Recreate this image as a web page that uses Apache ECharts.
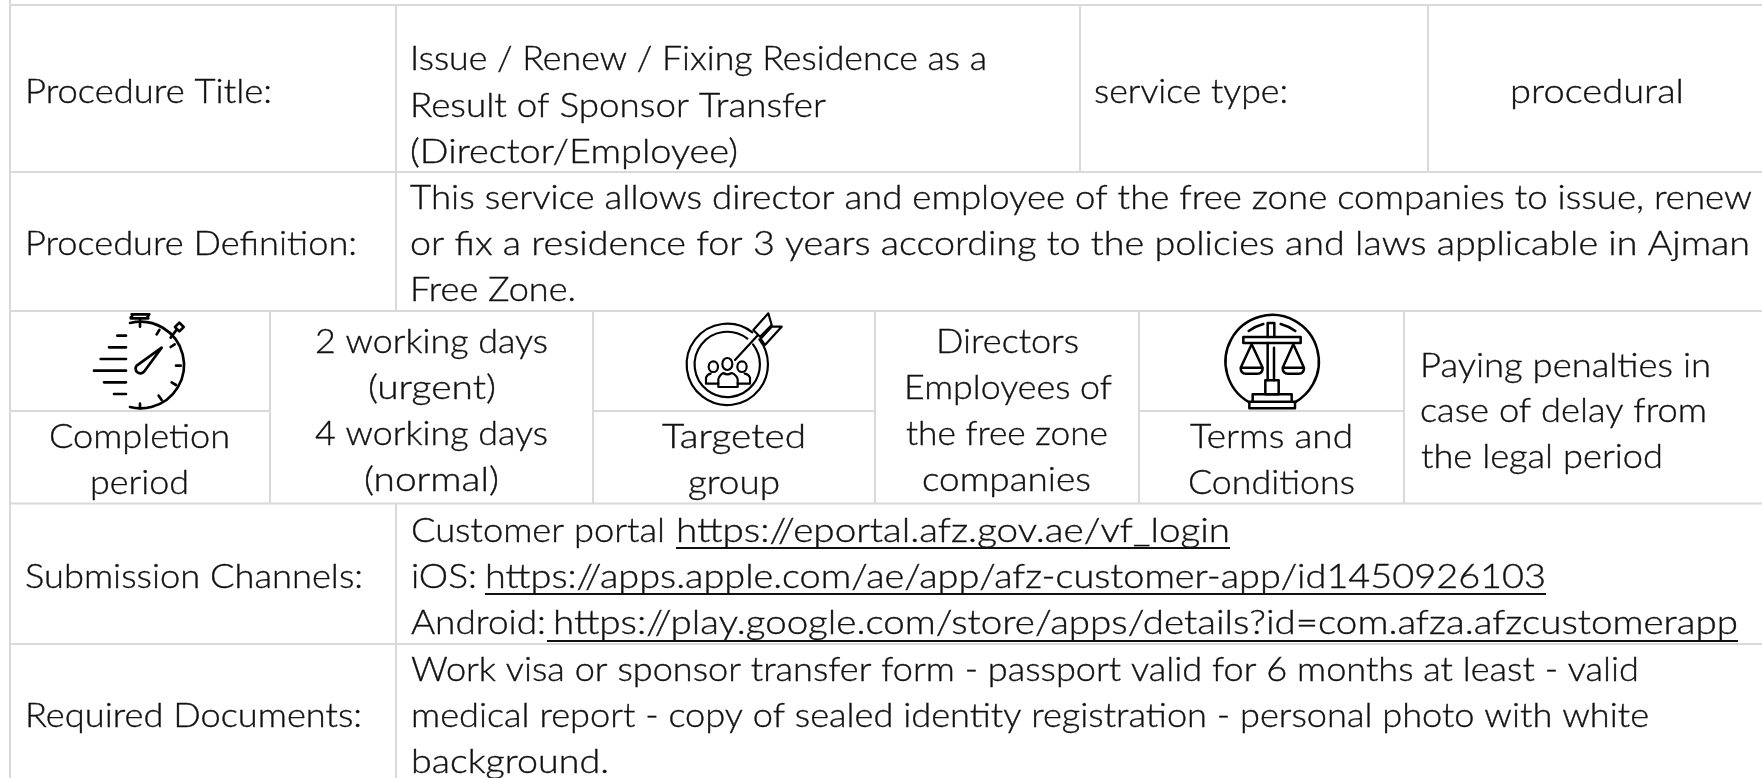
<!DOCTYPE html>
<html><head><meta charset="utf-8">
<style>html,body{margin:0;padding:0;background:#fff}#c{width:1762px;height:778px}</style>
<script src="https://cdn.jsdelivr.net/npm/echarts@6/dist/echarts.min.js"></script>
</head><body><div id="c"></div>
<script>
// ---- table content ----
const rowLabels = ['Procedure Title:', 'Procedure Definition:', 'Submission Channels:', 'Required Documents:'];
const titleLines = ['Issue / Renew / Fixing Residence as a', 'Result of Sponsor Transfer', '(Director/Employee)'];
const typeCells = ['service type:', 'procedural'];
const definitionLines = [
  'This service allows director and employee of the free zone companies to issue, renew',
  'or fix a residence for 3 years according to the policies and laws applicable in Ajman',
  'Free Zone.'];
const completionHead = ['Completion', 'period'];
const completionText = ['2 working days', '(urgent)', '4 working days', '(normal)'];
const targetHead = ['Targeted', 'group'];
const targetText = ['Directors', 'Employees of', 'the free zone', 'companies'];
const termsHead = ['Terms and', 'Conditions'];
const termsText = ['Paying penalties in', 'case of delay from', 'the legal period'];
const channelNames = ['Customer portal', 'iOS:', 'Android:'];
const channelLinks = [
  'https://eportal.afz.gov.ae/vf_login',
  'https://apps.apple.com/ae/app/afz-customer-app/id1450926103',
  'https://play.google.com/store/apps/details?id=com.afza.afzcustomerapp'];
const documentLines = [
  'Work visa or sponsor transfer form - passport valid for 6 months at least - valid',
  'medical report - copy of sealed identity registration - personal photo with white',
  'background.'];

// ---- layout: [left, right, baseline] in pixels, parallel to the lists above ----
const rowLabelPos = [[25,272,103],[25,357,255],[25,363,588],[25,362,727]];
const titlePos = [[410,987,70],[410,826,117],[410,738,163]];
const typePos = [[1094,1288,103],[1510,1684,103]];
const definitionPos = [[410,1752,209],[410,1750,255],[410,576,301]];
const completionHeadPos = [[49,230,448],[90,189,494]];
const completionTextPos = [[315,548,353],[368,496,399],[315,548,445],[364,499,491]];
const targetHeadPos = [[662,806,448],[688,780,494]];
const targetTextPos = [[936,1079,353],[904,1112,399],[906,1108,445],[922,1091,491]];
const termsHeadPos = [[1190,1353,448],[1188,1355,494]];
const termsTextPos = [[1420,1711,377],[1420,1707,422],[1421,1663,468]];
const channelNamePos = [[411,665,542],[411,477,588],[411,546,634]];
const channelLinkPos = [[676,1230,542],[485,1546,588],[553,1738,634]];
const underlinePos = [[676,1230,548],[485,1546,594],[547,1738,641]];
const documentPos = [[411,1639,681],[411,1649,727],[411,609,773]];
// grid: [x1,y1,x2,y2]
const gridLines = [
  [9,5,1762,5],[9,172,1762,172],[9,311,1762,311],[9,503.5,1762,503.5],[9,644,1762,644],
  [10,0,10,778],[396,5,396,311],[396,504,396,778],[1080,5,1080,172],[1428,5,1428,172],
  [270,311,270,503],[593,311,593,503],[875,311,875,503],[1139,311,1139,503],[1404,311,1404,503],
  [10,411,270,411],[594,411,875,411],[1139,411,1404,411]];

const FONT_SIZE = 33, FONT_FAMILY = 'Lato', FONT_WEIGHT = 300, INK = '#111111', RULE = '#d9d9d9';
const BASE_K = 0.31;
const mctx = document.createElement('canvas').getContext('2d');
mctx.font = FONT_WEIGHT + ' ' + FONT_SIZE + 'px ' + FONT_FAMILY;

function textEls(lines, pos) {
  return lines.map((t, i) => {
    const p = pos[i];
    return {
      type: 'text', x: p[0], y: p[2] - BASE_K * FONT_SIZE,
      scaleX: (p[1] - p[0]) / mctx.measureText(t).width, silent: true,
      style: { text: t, fill: INK, stroke: INK, lineWidth: 0.35, font: FONT_WEIGHT + ' ' + FONT_SIZE + 'px ' + FONT_FAMILY, align: 'left', verticalAlign: 'middle' }
    };
  });
}
const gridEls = gridLines.map(l => ({
  type: 'line', silent: true, shape: { x1: l[0], y1: l[1], x2: l[2], y2: l[3] },
  style: { stroke: RULE, lineWidth: 2 }
}));
const underlineEls = underlinePos.map(u => ({
  type: 'line', silent: true, shape: { x1: u[0], y1: u[2], x2: u[1], y2: u[2] },
  style: { stroke: INK, lineWidth: 2 }
}));

// ---- icons, drawn in a 3x local space ----
const watchPaths = [
  'M150 54 A130 130 0 1 1 150 306',
  'M155 28 H205 M152 38 L160 28 M208 28 L200 40 M152 40 H205 M180 40 V65',
  'M272 98 L290 74 M298 53 L311 66 L298 79 L285 66 Z',
  'M245 128 L192 200 A14 14 0 0 1 170 182 Z',
  'M112 92 H138 M87 127 H138 M62 162 H138 M42 197 H138 M72 232 H138 M102 267 H138',
  'M238 75 L230 88 M284 118 L272 126 M302 182 H288 M288 240 L275 232 M245 285 L236 272 M180 310 V296'
];
const targetPaths = [
  'M247 82 A122 122 0 1 0 268 103',
  'M232 101 A98 98 0 1 0 249 118',
  'M195 165 L262 92',
  'M250 75 L295 25 L305 60 L270 95 Z M272 101 L305 65 L335 65 L285 120 Z',
  'M116 185 a14 16 0 1 0 28 0 a14 16 0 1 0 -28 0 M157 177 a15 18 0 1 0 30 0 a15 18 0 1 0 -30 0 M202 185 a14 16 0 1 0 28 0 a14 16 0 1 0 -28 0',
  'M145 246 V222 Q150 208 160 204 Q172 212 185 204 Q198 208 203 222 V246 Z',
  'M145 236 H108 V218 Q112 208 122 206 M203 236 H240 V218 Q236 208 224 206'
];
const scalesPaths = [
  'M118 292 A140 140 0 1 1 255 292',
  'M116 78 Q135 64 160 57 M212 57 Q237 64 256 78',
  'M173 96 V54 H193 V96',
  'M100 96 H272 V114 H100 Z',
  'M173 114 V226 M192 128 V226',
  'M166 226 H206 V268 H166 Z',
  'M128 268 H245 V290 H128 Z M118 290 H255 V310 H118 Z',
  'M125 118 L92 188 Q92 206 108 206 H142 Q158 206 158 188 Z M92 188 H158',
  'M250 118 L218 188 Q218 206 234 206 H266 Q282 206 282 188 Z M218 188 H282'
];
const iconDefs = [
  { x: 80, y: 305, lw: 8, paths: watchPaths },
  { x: 670, y: 305, lw: 6.5, paths: targetPaths },
  { x: 1210, y: 305, lw: 7.5, paths: scalesPaths }
];

const elements = [].concat(
  gridEls,
  textEls(rowLabels, rowLabelPos),
  textEls(titleLines, titlePos),
  textEls(typeCells, typePos),
  textEls(definitionLines, definitionPos),
  textEls(completionHead, completionHeadPos),
  textEls(completionText, completionTextPos),
  textEls(targetHead, targetHeadPos),
  textEls(targetText, targetTextPos),
  textEls(termsHead, termsHeadPos),
  textEls(termsText, termsTextPos),
  textEls(channelNames, channelNamePos),
  textEls(channelLinks, channelLinkPos),
  textEls(documentLines, documentPos),
  underlineEls
);

const chart = echarts.init(document.getElementById('c'), null, { renderer: 'canvas' });
chart.setOption({
  animation: false, backgroundColor: '#fff', graphic: { elements },
  series: [{
    type: 'custom', coordinateSystem: 'none', silent: true, animation: false,
    data: iconDefs.map((_, i) => [i]),
    renderItem: (params) => {
      const d = iconDefs[params.dataIndex];
      return {
        type: 'group', x: d.x, y: d.y, scaleX: 1/3, scaleY: 1/3,
        children: d.paths.map(p => ({
          type: 'path', shape: { pathData: p },
          style: { fill: 'none', stroke: '#000', lineWidth: d.lw, lineCap: 'round', lineJoin: 'round' }
        }))
      };
    }
  }]
});
</script></body></html>
